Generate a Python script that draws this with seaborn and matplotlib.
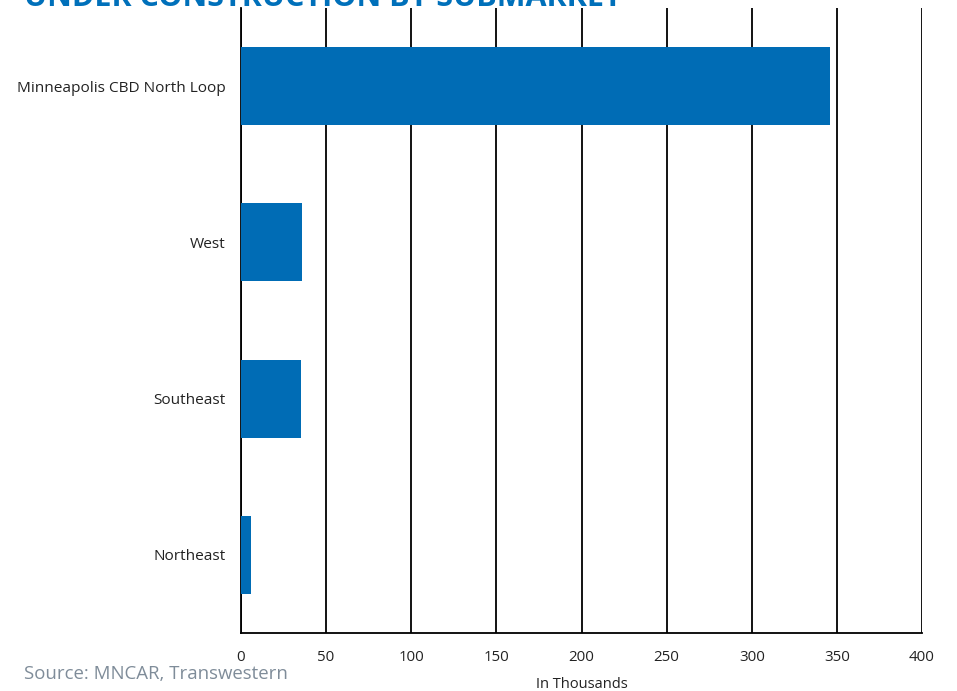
import matplotlib
matplotlib.use("Agg")
import matplotlib.pyplot as plt
import seaborn as sns
import pandas as pd

categories = ["Minneapolis CBD North Loop", "West", "Southeast", "Northeast"]
values = [346, 36, 35, 6]
xticks = [0, 50, 100, 150, 200, 250, 300, 350, 400]

sns.set_theme(style="white")
plt.rcParams['font.family'] = ['Open Sans', 'DejaVu Sans']

df = pd.DataFrame({"Submarket": categories, "Value": values})

fig = plt.figure(figsize=(9.57, 6.91), dpi=100)
ax = fig.add_axes([241/957, 58/691, 681/957, 625/691])

sns.barplot(data=df, y="Submarket", x="Value", orient="h", color="#006CB5",
            width=0.5, saturation=1, linewidth=0, ax=ax, zorder=3)

ax.set_xlim(0, 400)
ax.set_ylim(3.5, -0.5)
ax.set_xticks(xticks)
ax.set_xticklabels([str(t) for t in xticks], fontsize=10.8, color="#222222")
ax.tick_params(axis="x", length=0, pad=12)
ax.tick_params(axis="y", length=0, pad=11, labelsize=11.1, labelcolor="#222222")
ax.xaxis.grid(True, color="black", linewidth=1.3, zorder=0)
ax.set_axisbelow(True)
for s in ["top", "right"]:
    ax.spines[s].set_visible(False)
for s in ["left", "bottom"]:
    ax.spines[s].set_color("black")
    ax.spines[s].set_linewidth(1.3)
ax.set_ylabel("")
ax.set_xlabel("In Thousands", fontsize=10.5, color="#222222", labelpad=9)

fig.text(24/957, (691-6)/691, "UNDER CONSTRUCTION BY SUBMARKET", fontsize=22,
         fontweight="bold", color="#0070BA", va="baseline", ha="left")
fig.text(24/957, (691-674)/691, "Source: MNCAR, Transwestern", fontsize=13.4,
         color="#7F8C99", va="center", ha="left")

fig.savefig("out.png", dpi=100)
